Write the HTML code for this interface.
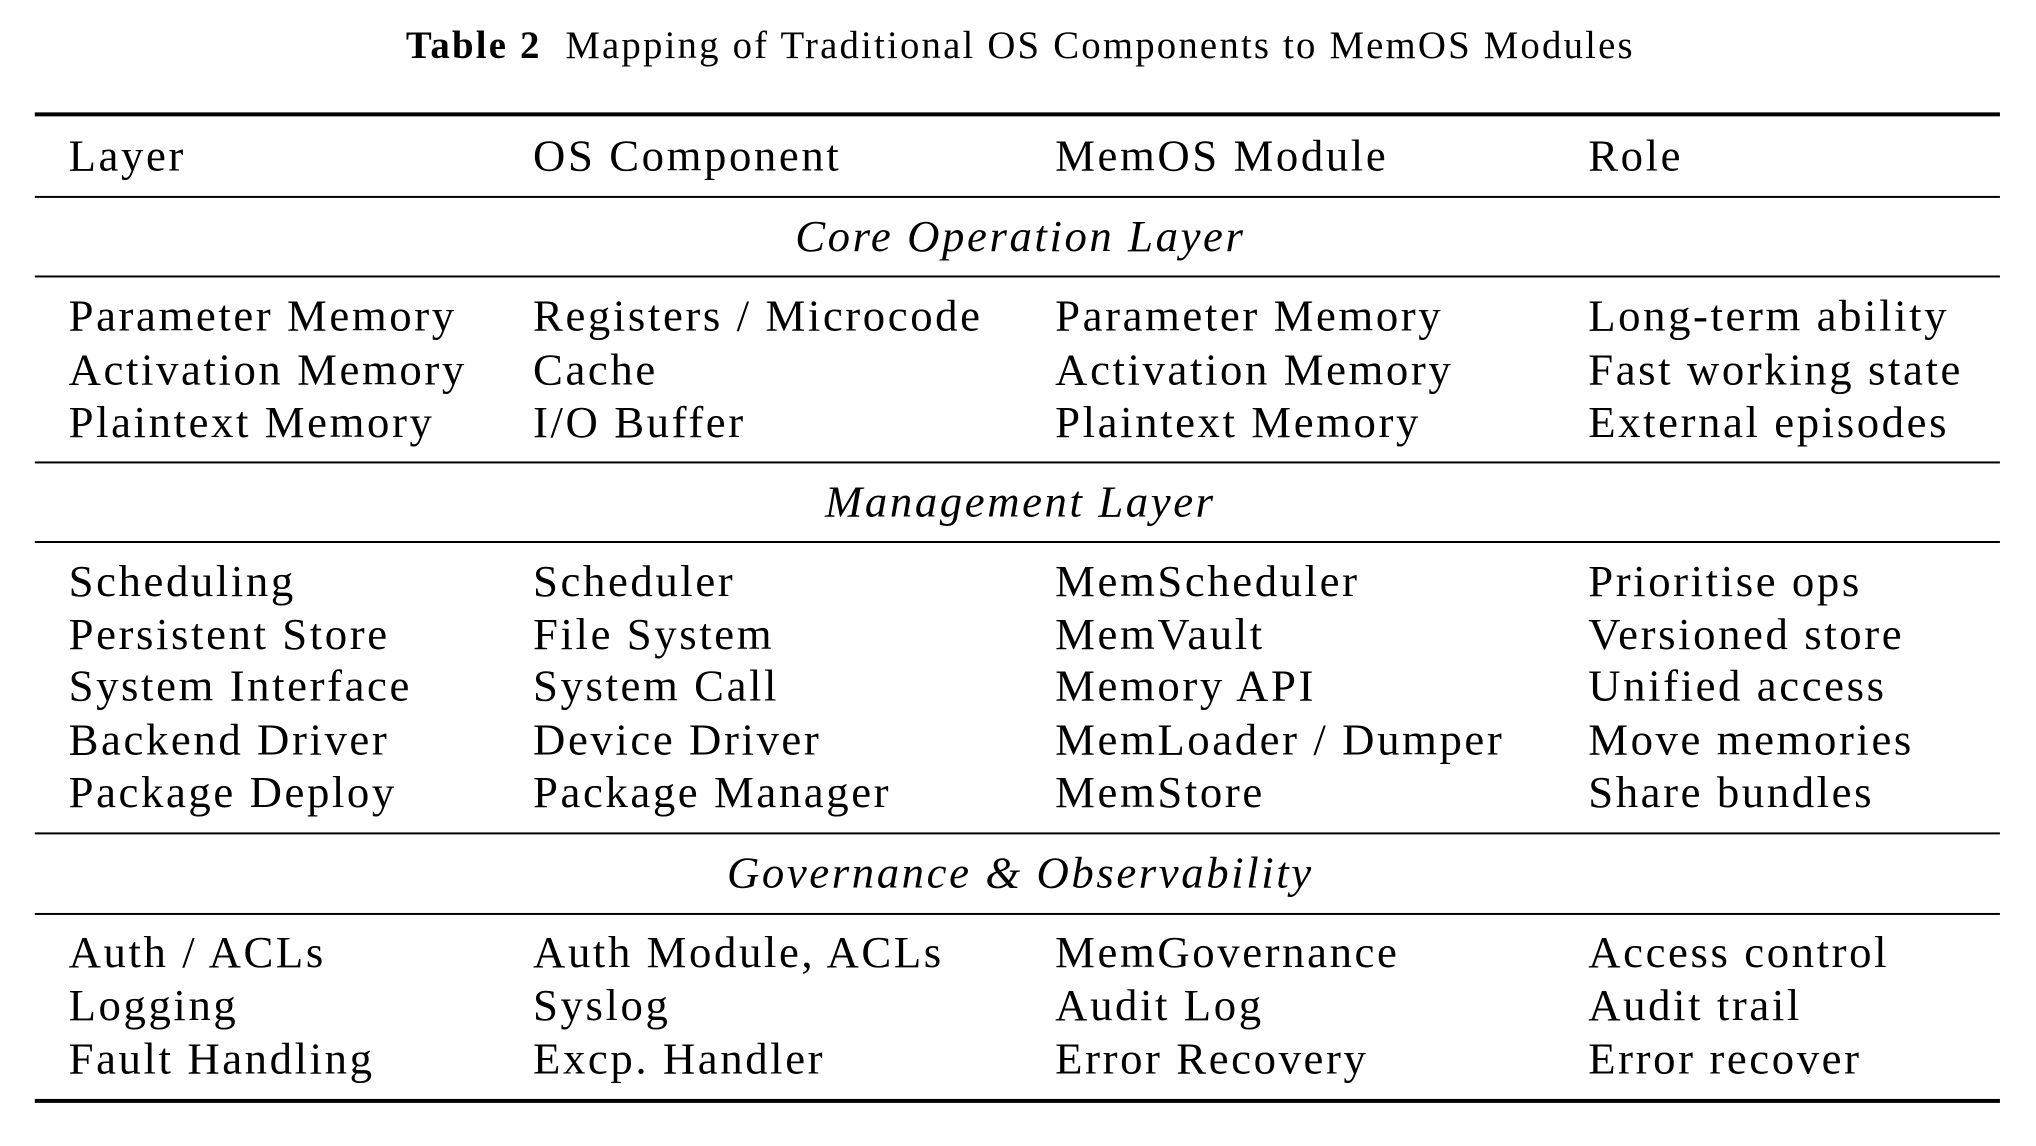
<!DOCTYPE html>
<html><head><meta charset="utf-8"><style>
body{margin:0;width:2036px;height:1146px;background:#fff;position:relative;overflow:hidden;font-family:"Liberation Serif",serif;color:#000}
#w{position:absolute;left:0;top:0;width:2036px;height:1146px;transform:scale(0.9945);transform-origin:0 0}
.t{position:absolute;white-space:nowrap;font-size:45px;letter-spacing:2.6px;line-height:1;transform:translateY(-50%)}
.c{transform:translate(-50%,-50%);font-style:italic}
.r{position:absolute;left:35px;width:1976px;background:#000}
</style></head><body><div id="w">
<div class="t" style="left:1026px;top:46px;transform:translate(-50%,-50%);font-size:39px;letter-spacing:2.2px"><b>Table 2</b>&nbsp;&nbsp;Mapping of Traditional OS Components to MemOS Modules</div>
<div class="r" style="top:113px;height:4px"></div>
<div class="r" style="top:197px;height:2px"></div>
<div class="r" style="top:277px;height:2px"></div>
<div class="r" style="top:464px;height:2px"></div>
<div class="r" style="top:544px;height:2px"></div>
<div class="r" style="top:837px;height:2px"></div>
<div class="r" style="top:918px;height:2px"></div>
<div class="r" style="top:1105px;height:4px"></div>

<div class="t" style="left:69px;top:157px">Layer</div>
<div class="t" style="left:536px;top:157px">OS Component</div>
<div class="t" style="left:1061px;top:157px">MemOS Module</div>
<div class="t" style="left:1597px;top:157px">Role</div>

<div class="t c" style="left:1026px;top:238px">Core Operation Layer</div>
<div class="t" style="left:69px;top:318px">Parameter Memory</div><div class="t" style="left:536px;top:318px">Registers / Microcode</div><div class="t" style="left:1061px;top:318px">Parameter Memory</div><div class="t" style="left:1597px;top:318px">Long-term ability</div>
<div class="t" style="left:69px;top:372px">Activation Memory</div><div class="t" style="left:536px;top:372px">Cache</div><div class="t" style="left:1061px;top:372px">Activation Memory</div><div class="t" style="left:1597px;top:372px">Fast working state</div>
<div class="t" style="left:69px;top:425px">Plaintext Memory</div><div class="t" style="left:536px;top:425px">I/O Buffer</div><div class="t" style="left:1061px;top:425px">Plaintext Memory</div><div class="t" style="left:1597px;top:425px">External episodes</div>

<div class="t c" style="left:1026px;top:505px">Management Layer</div>
<div class="t" style="left:69px;top:585px">Scheduling</div><div class="t" style="left:536px;top:585px">Scheduler</div><div class="t" style="left:1061px;top:585px">MemScheduler</div><div class="t" style="left:1597px;top:585px">Prioritise ops</div>
<div class="t" style="left:69px;top:638px">Persistent Store</div><div class="t" style="left:536px;top:638px">File System</div><div class="t" style="left:1061px;top:638px">MemVault</div><div class="t" style="left:1597px;top:638px">Versioned store</div>
<div class="t" style="left:69px;top:690px">System Interface</div><div class="t" style="left:536px;top:690px">System Call</div><div class="t" style="left:1061px;top:690px">Memory API</div><div class="t" style="left:1597px;top:690px">Unified access</div>
<div class="t" style="left:69px;top:744px">Backend Driver</div><div class="t" style="left:536px;top:744px">Device Driver</div><div class="t" style="left:1061px;top:744px">MemLoader / Dumper</div><div class="t" style="left:1597px;top:744px">Move memories</div>
<div class="t" style="left:69px;top:797px">Package Deploy</div><div class="t" style="left:536px;top:797px">Package Manager</div><div class="t" style="left:1061px;top:797px">MemStore</div><div class="t" style="left:1597px;top:797px">Share bundles</div>

<div class="t c" style="left:1026px;top:878px">Governance &amp; Observability</div>
<div class="t" style="left:69px;top:958px">Auth / ACLs</div><div class="t" style="left:536px;top:958px">Auth Module, ACLs</div><div class="t" style="left:1061px;top:958px">MemGovernance</div><div class="t" style="left:1597px;top:958px">Access control</div>
<div class="t" style="left:69px;top:1011px">Logging</div><div class="t" style="left:536px;top:1011px">Syslog</div><div class="t" style="left:1061px;top:1011px">Audit Log</div><div class="t" style="left:1597px;top:1011px">Audit trail</div>
<div class="t" style="left:69px;top:1065px">Fault Handling</div><div class="t" style="left:536px;top:1065px">Excp. Handler</div><div class="t" style="left:1061px;top:1065px">Error Recovery</div><div class="t" style="left:1597px;top:1065px">Error recover</div>
</div></body></html>
